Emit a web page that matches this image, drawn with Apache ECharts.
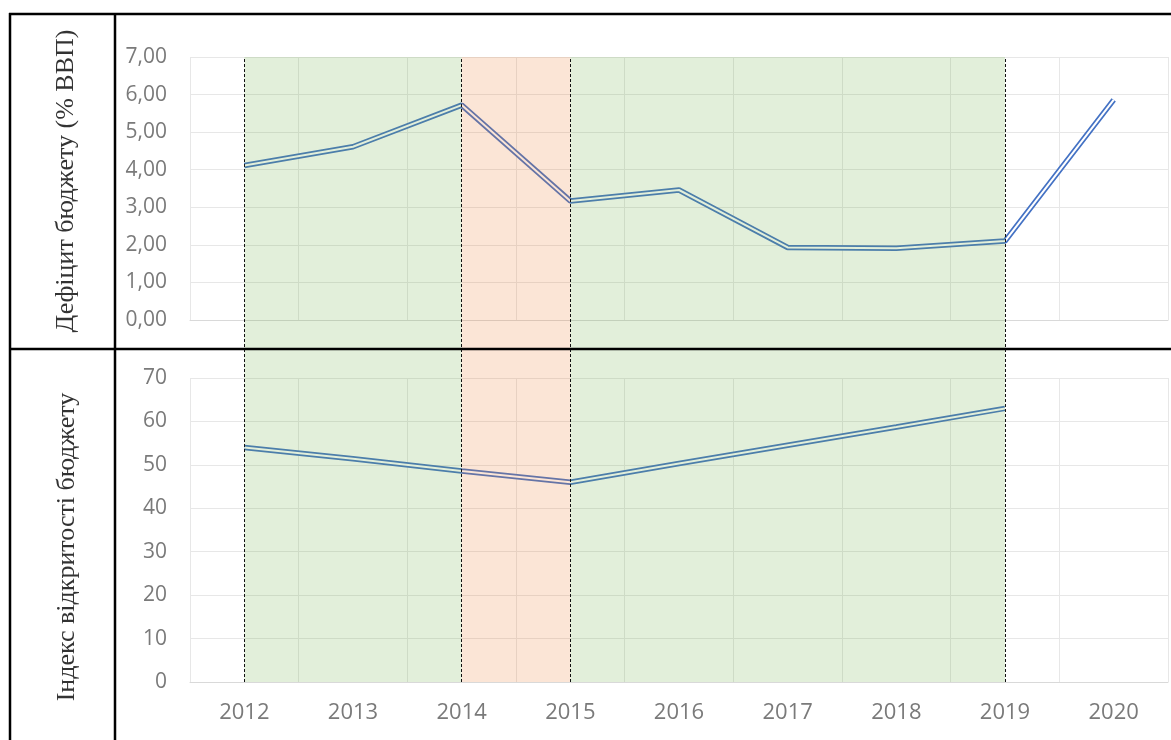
<!DOCTYPE html>
<html>
<head>
<meta charset="utf-8">
<script src="https://cdn.jsdelivr.net/npm/echarts@6/dist/echarts.min.js"></script>
<style>
html,body{margin:0;padding:0;background:#fff;}
#chart{width:1171px;height:740px;}
</style>
</head>
<body>
<div id="chart"></div>
<script>
var years = ['2012','2013','2014','2015','2016','2017','2018','2019','2020'];
var deficit = [4.11, 4.61, 5.72, 3.17, 3.46, 1.93, 1.91, 2.10, 5.86];
var openness = [54.0, 51.4, 48.6, 46.0, 50.3, 54.5, 58.7, 63.0, null];
var deficitTicks = {min: 0, max: 7, interval: 1};
var opennessTicks = {min: 0, max: 70, interval: 10};
var greenSpans = [['2012','2014'], ['2015','2019']];
var orangeSpans = [['2014','2015']];
var markYears = ['2012','2014','2015','2019'];
var titleTop = 'Дефіцит бюджету (% ВВП)';
var titleBottom = 'Індекс відкритості бюджету';

var chart = echarts.init(document.getElementById('chart'));
var gridColor = '#e7e7e7';
var labelColor = '#7a7a7a';
var labelFont = 'Open Sans';

function catAxis(idx, showLabels) {
  return {
    type: 'category', gridIndex: idx, data: years, boundaryGap: true,
    axisLine: {show: idx !== 2, lineStyle: {color: '#d9d9d9', width: 1}},
    axisTick: {show: false},
    axisLabel: {show: showLabels, color: labelColor, fontFamily: labelFont, fontSize: 22, margin: 20},
    splitLine: {show: idx !== 2, lineStyle: {color: gridColor, width: 1}}
  };
}
function valAxis(idx, t, fmt) {
  return {
    type: 'value', gridIndex: idx, min: t.min, max: t.max, interval: t.interval,
    show: idx !== 2,
    axisLine: {show: false}, axisTick: {show: false},
    axisLabel: {color: labelColor, fontFamily: labelFont, fontSize: 21, margin: 23, formatter: fmt},
    splitLine: {show: true, lineStyle: {color: gridColor, width: 1}}
  };
}
function doubleLine(idx, data) {
  return [
    {type: 'line', xAxisIndex: idx, yAxisIndex: idx, data: data, symbol: 'none', z: 2,
     lineStyle: {color: '#4472c4', width: 5.5}, silent: true},
    {type: 'line', xAxisIndex: idx, yAxisIndex: idx, data: data, symbol: 'none', z: 3,
     lineStyle: {color: '#ffffff', width: 2}, silent: true}
  ];
}

var areas = [];
greenSpans.forEach(function (s) {
  areas.push([{xAxis: s[0], itemStyle: {color: 'rgba(112,173,71,0.2)'}}, {xAxis: s[1]}]);
});
orangeSpans.forEach(function (s) {
  areas.push([{xAxis: s[0], itemStyle: {color: 'rgba(237,125,49,0.2)'}}, {xAxis: s[1]}]);
});

var B = 2.5;
var graphics = [
  {type: 'line', z: 100, shape: {x1: 9, y1: 14, x2: 1171, y2: 14}, style: {stroke: '#000', lineWidth: B}},
  {type: 'line', z: 100, shape: {x1: 10, y1: 13, x2: 10, y2: 740}, style: {stroke: '#000', lineWidth: B}},
  {type: 'line', z: 100, shape: {x1: 115, y1: 13, x2: 115, y2: 740}, style: {stroke: '#000', lineWidth: B}},
  {type: 'line', z: 100, shape: {x1: 9, y1: 349, x2: 1171, y2: 349}, style: {stroke: '#000', lineWidth: B}},
  {type: 'text', z: 100, x: 66, y: 181, rotation: Math.PI / 2,
   style: {text: titleTop, fill: '#333', font: '26px "Liberation Serif"', align: 'center', verticalAlign: 'middle'}},
  {type: 'text', z: 100, x: 67, y: 547, rotation: Math.PI / 2,
   style: {text: titleBottom, fill: '#333', font: '26px "Liberation Serif"', align: 'center', verticalAlign: 'middle'}}
];

var option = {
  animation: false,
  backgroundColor: '#ffffff',
  grid: [
    {left: 190, right: 3, top: 57, bottom: 420},
    {left: 190, right: 3, top: 378, bottom: 58},
    {left: 190, right: 3, top: 57, bottom: 58}
  ],
  xAxis: [catAxis(0, false), catAxis(1, true), catAxis(2, false)],
  yAxis: [
    valAxis(0, deficitTicks, function (v) { return v.toFixed(2).replace('.', ','); }),
    valAxis(1, opennessTicks, function (v) { return String(v); }),
    valAxis(2, {min: 0, max: 1, interval: 1}, null)
  ],
  series: doubleLine(0, deficit).concat(doubleLine(1, openness)).concat([
    {type: 'line', xAxisIndex: 2, yAxisIndex: 2, data: years.map(function () { return null; }),
     symbol: 'none', z: 10, silent: true,
     markArea: {silent: true, z: 10, data: areas},
     markLine: {silent: true, z: 11, symbol: 'none', label: {show: false},
       lineStyle: {color: '#111', type: [3, 2], width: 1},
       data: markYears.map(function (y) { return {xAxis: y}; })}
    }
  ]),
  graphic: graphics
};
chart.setOption(option);
</script>
</body>
</html>
